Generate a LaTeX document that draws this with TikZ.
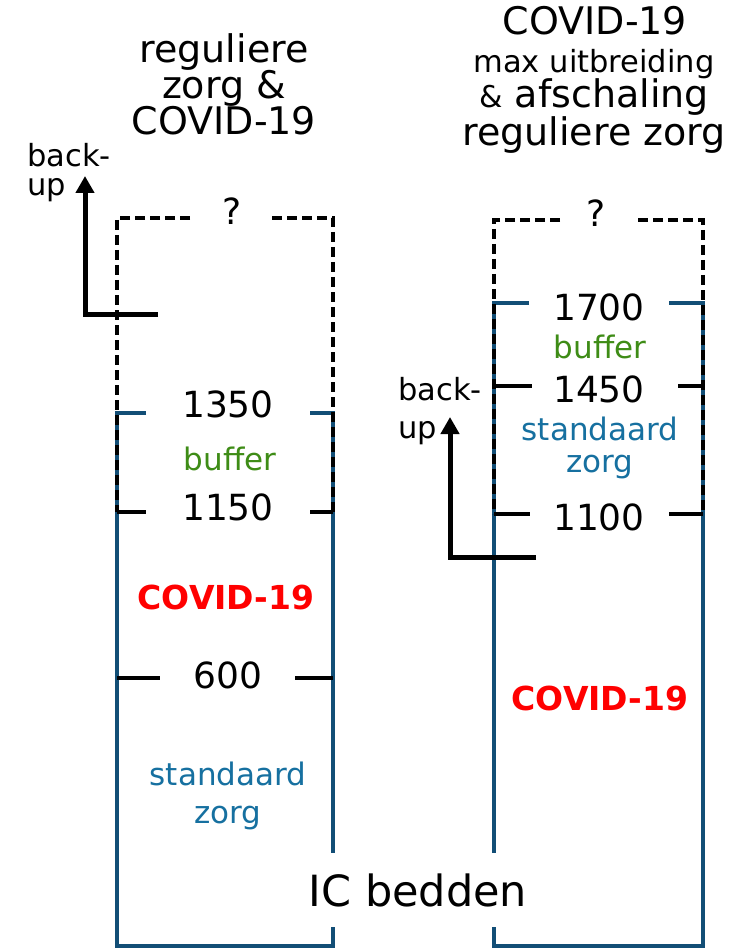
\documentclass[tikz,border=0pt]{standalone}
\usepackage{fontspec}
\setmainfont{DejaVu Sans}
\usetikzlibrary{arrows.meta}
\definecolor{boxblue}{RGB}{18,78,118}
\definecolor{txtblue}{RGB}{22,112,160}
\definecolor{bufgreen}{RGB}{62,140,22}
\definecolor{covred}{RGB}{255,0,0}
\begin{document}
\begin{tikzpicture}[x=1pt,y=-1pt,
  bluebox/.style={draw=boxblue,line width=3.8pt},
  dashbox/.style={draw=black,line width=3.8pt,dash pattern=on 10pt off 5pt},
  tickline/.style={draw=black,line width=3.8pt},
  backarrow/.style={draw=black,line width=5pt,-{Triangle[length=17pt,width=18pt]}},
  txt/.style={inner sep=0pt,anchor=base},
  title/.style={txt,font=\fontsize{38}{38}\selectfont},
  big/.style={txt,font=\fontsize{36}{36}\selectfont},
  mid/.style={txt,font=\fontsize{31}{31}\selectfont},
  small/.style={txt,font=\fontsize{30.5}{30.5}\selectfont},
  covid/.style={txt,text=covred,font=\fontsize{33}{33}\selectfont\bfseries},
]
\useasboundingbox[fill=white] (0,0) rectangle (741,949);

% blue boxes
\draw[bluebox] (146,413) -- (117,413) -- (117,946) -- (333,946) -- (333,413) -- (310,413);
\draw[bluebox] (529,303) -- (494,303) -- (494,946) -- (703,946) -- (703,303) -- (669,303);

% dashed extensions
\draw[dashbox] (190,218) -- (117,218) -- (117,512);
\draw[dashbox] (272,218) -- (333,218) -- (333,512);
\draw[dashbox] (560,220) -- (494,220) -- (494,514);
\draw[dashbox] (638,220) -- (703,220) -- (703,514);

% ticks
\draw[tickline] (117,512) -- (146,512);
\draw[tickline] (310,512) -- (333,512);
\draw[tickline] (117,678) -- (160,678);
\draw[tickline] (295,678) -- (333,678);
\draw[tickline] (494,386) -- (532,386);
\draw[tickline] (678,386) -- (703,386);
\draw[tickline] (494,514) -- (530,514);
\draw[tickline] (669,514) -- (703,514);

% backup arrows
\coordinate (bl0) at (158,314);
\coordinate (bl1) at (85,314);
\coordinate (bl2) at (85,176);
\draw[backarrow] (bl0) -- (bl1) -- (bl2);
\coordinate (br0) at (536,557);
\coordinate (br1) at (450,557);
\coordinate (br2) at (450,417);
\draw[backarrow] (br0) -- (br1) -- (br2);

% titles
\node[title] (tl1) at (224,63) {reguliere};
\node[title] (tl2) at (224,99) {zorg \&};
\node[title] (tl3) at (224,135) {COVID-19};
\node[title] (tr1) at (595,35) {COVID-19};
\node[small] (tr2) at (594,73) {max uitbreiding};
\node[title] (tr3) at (594,108) {{\fontsize{30}{30}\selectfont\&} afschaling};
\node[title] (tr4) at (594,146) {reguliere zorg};

% question marks
\node[big] (q1) at (232,225) {?};
\node[big] (q2) at (596,227) {?};

% backup labels
\node[small,anchor=base west] (bu1a) at (27,167) {back-};
\node[small,anchor=base west] (bu1b) at (27,196) {up};
\node[small,anchor=base west] (bu2a) at (398,400) {back-};
\node[small,anchor=base west] (bu2b) at (398,438) {up};

% left column labels
\node[big] (n1350) at (228,417) {1350};
\node[mid,text=bufgreen] (bufl) at (230,470) {buffer};
\node[big] (n1150) at (228,520) {1150};
\node[covid] (covl) at (226,609) {COVID-19};
\node[big] (n600) at (228,688) {600};
\node[mid,text=txtblue] (stl1) at (228,785) {standaard};
\node[mid,text=txtblue] (stl2) at (228,823) {zorg};

% right column labels
\node[big] (n1700) at (599,320) {1700};
\node[mid,text=bufgreen] (bufr) at (600,358) {buffer};
\node[big] (n1450) at (599,402) {1450};
\node[mid,text=txtblue] (str1) at (600,440) {standaard};
\node[mid,text=txtblue] (str2) at (600,472) {zorg};
\node[big] (n1100) at (599,530) {1100};
\node[covid] (covr) at (600,710) {COVID-19};

% IC bedden
\node[fill=white,inner xsep=4pt,inner ysep=0pt,minimum height=74pt,font=\fontsize{43}{43}\selectfont] (ic) at (418,890) {IC bedden};
\end{tikzpicture}
\end{document}
